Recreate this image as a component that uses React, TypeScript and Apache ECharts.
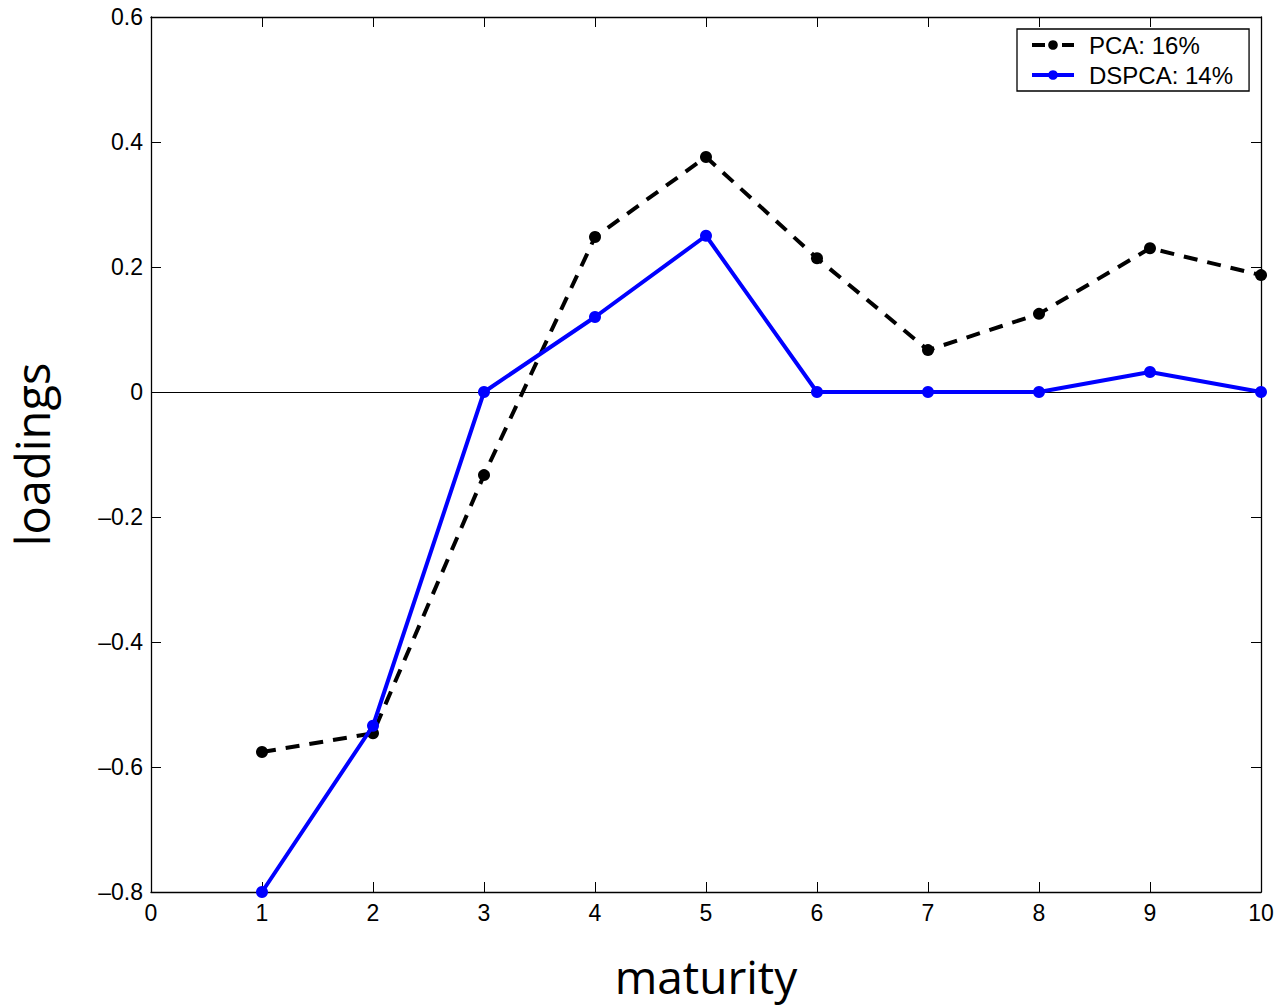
import React, { useEffect, useRef } from "react";
import * as echarts from "echarts";

const maturity = [1, 2, 3, 4, 5, 6, 7, 8, 9, 10];
const pcaValues = [-0.576, -0.546, -0.133, 0.248, 0.376, 0.214, 0.067, 0.125, 0.230, 0.187];
const dspcaValues = [-0.8, -0.534, 0, 0.12, 0.25, 0, 0, 0, 0.032, 0];
const seriesNames = ["PCA: 16%", "DSPCA: 14%"];

const minusFmt = (v: number) => {
  const s = Number.isInteger(v) ? String(v) : String(Math.round(v * 10) / 10);
  return s.replace("-", "\u2013");
};

export default function App() {
  const ref = useRef<HTMLDivElement>(null);
  useEffect(() => {
    if (!ref.current) return;
    const chart = echarts.init(ref.current, null, { renderer: "svg" });
    const labelFont = { fontFamily: "Liberation Sans, Arial, sans-serif", fontSize: 23, color: "#000" };
    const axisCommon = {
      axisLine: { show: true, onZero: false, lineStyle: { color: "#000", width: 1.3 } },
      axisTick: { show: true, inside: true, length: 10, lineStyle: { color: "#000", width: 1 } },
      splitLine: { show: false },
    };
    chart.setOption({
      animation: false,
      backgroundColor: "#fff",
      grid: { left: 151, top: 17, right: 17, bottom: 115, containLabel: false, outerBoundsMode: "none" },
      legend: {
        orient: "vertical",
        left: 1017,
        top: 29,
        padding: [4, 16, 4, 13],
        itemGap: 6,
        itemWidth: 42,
        itemHeight: 12,
        borderColor: "#000",
        borderWidth: 1.3,
        borderRadius: 0,
        backgroundColor: "#fff",
        textStyle: { ...labelFont, fontSize: 24, lineHeight: 24, padding: [0, 0, 0, 10] },
        data: [
          { name: seriesNames[0], lineStyle: { color: "#000", width: 4, type: [13, 17] } },
          { name: seriesNames[1], lineStyle: { color: "#0000ff", width: 4, type: "solid" } },
        ],
      },
      xAxis: [
        {
          type: "value",
          min: 0,
          max: 10,
          interval: 1,
          position: "bottom",
          ...axisCommon,
          axisLabel: { ...labelFont, margin: 9 },
          name: "maturity",
          nameLocation: "middle",
          nameGap: 64,
          nameTextStyle: { fontFamily: "Open Sans, sans-serif", fontSize: 46, lineHeight: 40, color: "#000" },
        },
        {
          type: "value",
          min: 0,
          max: 10,
          interval: 1,
          position: "top",
          ...axisCommon,
          axisLabel: { show: false },
        },
      ],
      yAxis: [
        {
          type: "value",
          min: -0.8,
          max: 0.6,
          interval: 0.2,
          position: "left",
          ...axisCommon,
          axisLabel: { ...labelFont, margin: 8, formatter: minusFmt },
          name: "loadings",
          nameLocation: "middle",
          nameGap: 96,
          nameRotate: 90,
          nameTextStyle: { fontFamily: "Open Sans, sans-serif", fontSize: 47, lineHeight: 47, color: "#000" },
        },
        {
          type: "value",
          min: -0.8,
          max: 0.6,
          interval: 0.2,
          position: "right",
          ...axisCommon,
          axisLabel: { show: false },
        },
      ],
      series: [
        {
          name: seriesNames[0],
          type: "line",
          xAxisIndex: 0,
          yAxisIndex: 0,
          data: maturity.map((m, i) => [m, pcaValues[i]]),
          symbol: "circle",
          symbolSize: 12,
          itemStyle: { color: "#000" },
          lineStyle: { color: "#000", width: 4, type: [14, 10] },
          z: 3,
          markLine: {
            silent: true,
            symbol: "none",
            label: { show: false },
            lineStyle: { color: "#000", width: 1, type: "solid" },
            data: [{ yAxis: 0 }],
            z: 1,
          },
        },
        {
          name: seriesNames[1],
          type: "line",
          xAxisIndex: 0,
          yAxisIndex: 0,
          data: maturity.map((m, i) => [m, dspcaValues[i]]),
          symbol: "circle",
          symbolSize: 12,
          itemStyle: { color: "#0000ff" },
          lineStyle: { color: "#0000ff", width: 4 },
          z: 4,
        },
      ],
    });
    return () => chart.dispose();
  }, []);
  return (
    <div
      ref={ref}
      style={{ position: "fixed", left: 0, top: 0, width: 1278, height: 1007, background: "#fff" }}
    />
  );
}
